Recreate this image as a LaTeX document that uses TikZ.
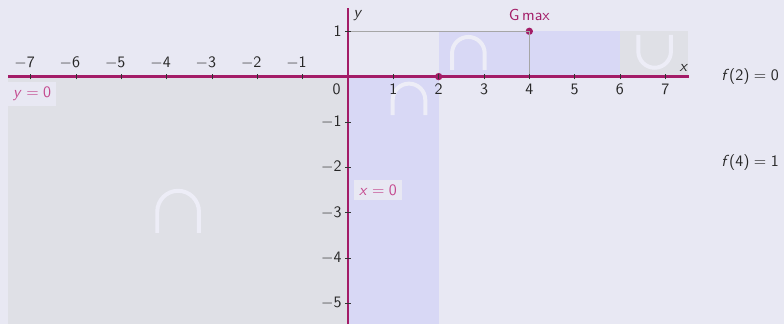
\documentclass[tikz,border=0pt]{standalone}
\usepackage{tikz}
\usetikzlibrary{positioning,calc}
\definecolor{pagebg}{RGB}{232,232,243}
\definecolor{grayzone}{RGB}{223,224,230}
\definecolor{bluezone}{RGB}{216,216,245}
\definecolor{axisrule}{RGB}{163,28,103}
\definecolor{softrule}{RGB}{196,72,142}
\definecolor{capwhite}{RGB}{237,237,247}
\newcommand{\nminus}{$-$}
\newcommand{\eqsf}[2]{#1\hspace{0.28em}=\hspace{0.28em}#2}
\tikzset{
  axisline/.style={draw=axisrule,line width=1.5pt},
  tickmark/.style={draw=black!80,line width=0.4pt},
  ticklabel/.style={inner sep=1pt,text=black!85},
  guide/.style={draw=black!35,line width=0.6pt},
  grayregion/.style={fill=grayzone},
  blueregion/.style={fill=bluezone},
  capmark/.style={draw=capwhite,line width=2.5pt},
  eqlabel/.style={fill=pagebg,text=softrule,inner sep=3pt},
  hotdot/.style={circle,fill=axisrule,inner sep=0pt,minimum size=4.6pt},
  sidenote/.style={text=black!85,anchor=center}
}

\begin{document}
\begin{tikzpicture}[font=\sffamily]
  \useasboundingbox[fill=pagebg] (-7.68,-5.46) rectangle (9.62,1.69);
  % sign regions
  \fill[grayregion] (-7.5,-5.46) rectangle (0,0);
  \fill[blueregion] (0,-5.46) rectangle (2,0);
  \fill[blueregion] (2,0) rectangle (6,1);
  \fill[grayregion] (6,0) rectangle (7.5,1);
  % curvature marks
  \draw[capmark] (-4.21,-3.45) -- ++(0,0.47) arc(180:0:0.46) -- ++(0,-0.47);
  \draw[capmark] (0.985,-0.85) -- ++(0,0.335) arc(180:0:0.36) -- ++(0,-0.335);
  \draw[capmark] (2.295,0.15) -- ++(0,0.365) arc(180:0:0.36) -- ++(0,-0.365);
  \draw[capmark] (6.405,0.92) -- ++(0,-0.365) arc(180:360:0.36) -- ++(0,0.365);
  % guides to the maximum
  \coordinate (g0) at (0,1);
  \coordinate (g1) at (4,0);
  \node[hotdot] (gmax) at (4,1) {};
  \node[hotdot] (zero) at (2,0) {};
  \draw[guide] (g0) -- (gmax.center);
  \draw[guide] (g1) -- (gmax.center);
  % axes
  \coordinate (xl) at (-7.5,0);
  \coordinate (xr) at (7.52,0);
  \coordinate (yb) at (0,-5.46);
  \coordinate (yt) at (0,1.52);
  \draw[axisline] (xl) -- (xr);
  \draw[axisline] (yb) -- (yt);
  \foreach \x in {1,...,7} {
    \draw[tickmark] (-\x,-0.06) -- (-\x,0.06);
    \node[ticklabel,anchor=south,xshift=-3.9pt] (xtn\x) at (-\x,0.12) {\nminus\x};
    \draw[tickmark] (\x,-0.06) -- (\x,0.06);
    \node[ticklabel,anchor=north] (xt\x) at (\x,-0.12) {\x};
  }
  \foreach \y in {1,...,5} {
    \draw[tickmark] (-0.06,-\y) -- (0.06,-\y);
    \node[ticklabel,anchor=east] (ytn\y) at (-0.1,-\y) {\nminus\y};
  }
  \draw[tickmark] (-0.06,1) -- (0.06,1);
  \node[ticklabel,anchor=east] (yt1) at (-0.1,1) {1};
  \node[ticklabel,anchor=north east] (orig) at (-0.12,-0.12) {0};
  \node[ticklabel,anchor=south east] (xname) at (7.55,0.08) {\textit{x}};
  \node[ticklabel,anchor=south west] (yname) at (0.08,1.18) {\textit{y}};
  % labels
  \node[eqlabel,anchor=north west] (yzero) at (-7.5,-0.12) {\eqsf{\textit{y}}{0}};
  \node[eqlabel] (xzero) at (0.66,-2.5) {\eqsf{\textit{x}}{0}};
  \node[text=axisrule,above=0.5pt of gmax] (gmaxlab) {G\,max};
  \node[sidenote] (f2) at (8.87,0) {\eqsf{\textit{f}(2)}{0}};
  \node[sidenote] (f4) at (8.87,-1.9) {\eqsf{\textit{f}(4)}{1}};
\end{tikzpicture}
\end{document}
